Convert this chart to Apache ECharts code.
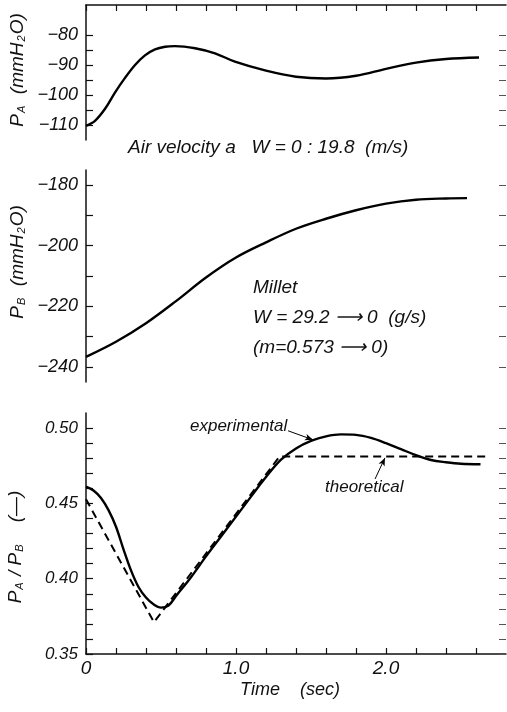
<!DOCTYPE html>
<html>
<head>
<meta charset="utf-8">
<title>PA, PB and PA/PB vs time</title>
<script src="https://cdn.jsdelivr.net/npm/echarts@6/dist/echarts.min.js"></script>
<style>
  html, body { margin: 0; padding: 0; background: #fff; }
  #chart { width: 507px; height: 712px; }
</style>
</head>
<body>
<div id="chart"></div>
<script>
// P_A, air pressure (mmH2O)
const timeA = [0, 0.06, 0.127, 0.193, 0.26, 0.327, 0.393, 0.46, 0.527, 0.593, 0.727, 0.86, 0.993, 1.2, 1.4, 1.6, 1.8, 2.0, 2.2, 2.4, 2.62];
const pressureA = [-110.3, -108.6, -104.6, -99.2, -94.3, -90, -86.8, -84.8, -83.9, -83.7, -84.4, -86.1, -88.9, -91.9, -93.9, -94.5, -93.6, -91.3, -89.2, -88, -87.5];

// P_B (mmH2O)
const timeB = [0, 0.2, 0.4, 0.6, 0.8, 1.0, 1.2, 1.4, 1.6, 1.8, 2.0, 2.2, 2.4, 2.54];
const pressureB = [-236.7, -231.7, -225.6, -218.3, -210.5, -203.9, -198.9, -194.4, -191.1, -188.3, -186.1, -184.8, -184.4, -184.3];

// P_A / P_B experimental
const timeExp = [0, 0.05, 0.1, 0.15, 0.2, 0.25, 0.3, 0.35, 0.4, 0.45, 0.5, 0.55, 0.6, 0.7, 0.8, 0.9, 1.0, 1.1, 1.2, 1.3, 1.4, 1.5, 1.6, 1.7, 1.8, 1.9, 2.0, 2.1, 2.2, 2.3, 2.4, 2.5, 2.63];
const ratioExp = [0.4611, 0.4585, 0.4535, 0.4455, 0.4345, 0.4195, 0.4055, 0.3945, 0.3875, 0.383, 0.3808, 0.3822, 0.3885, 0.401, 0.4148, 0.428, 0.4412, 0.4545, 0.4675, 0.479, 0.4865, 0.4915, 0.4945, 0.4958, 0.4955, 0.4935, 0.490, 0.486, 0.482, 0.4788, 0.4773, 0.4763, 0.476];

// P_A / P_B theoretical
const timeTheo = [0, 0.453, 1.29, 2.67];
const ratioTheo = [0.4527, 0.3711, 0.4811, 0.4811];

// ticks and labels
const timeTicks = [0, 0.2, 0.4, 0.6, 0.8, 1.0, 1.2, 1.4, 1.6, 1.8, 2.0, 2.2, 2.4, 2.6];
const timeLabels = [0, 1, 2];
const paTicks = [-110, -105, -100, -95, -90, -85, -80];
const paLabels = [-110, -100, -90, -80];
const pbTicks = [-240, -230, -220, -210, -200, -190, -180];
const pbLabels = [-240, -220, -200, -180];
const ratioTicks = [0.35, 0.36, 0.37, 0.38, 0.39, 0.40, 0.41, 0.42, 0.43, 0.44, 0.45, 0.46, 0.47, 0.48, 0.49, 0.50];
const ratioLabels = [0.35, 0.40, 0.45, 0.50];

// leader arrows [from, to] in data units
const arrowExp = [[1.347, 0.4982], [1.513, 0.4922]];
const arrowTheo = [[1.927, 0.4662], [1.993, 0.4802]];

const zip = (xs, ys) => xs.map((x, i) => [x, ys[i]]);

const ink = '#111';
const fontFam = 'Liberation Sans, Arial, sans-serif';
const italic = { fontFamily: fontFam, fontStyle: 'italic', color: ink };
const nameRich = {
  it: { fontFamily: fontFam, fontStyle: 'italic', fontSize: 19, fill: ink },
  sub: { fontFamily: fontFam, fontStyle: 'italic', fontSize: 11, fill: ink, padding: [8, 1, 0, 1] }
};

const chart = echarts.init(document.getElementById('chart'));

const leftAxis = (grid, min, max, ticks, labels, fmt, size) => ({
  type: 'value', gridIndex: grid, position: 'left', min, max,
  axisLine: { show: true, lineStyle: { color: ink, width: 1.5 } },
  axisTick: { show: true, inside: true, length: 7, customValues: ticks, lineStyle: { color: ink, width: 1.2 } },
  axisLabel: { ...italic, fontSize: size, margin: 8, customValues: labels, formatter: fmt },
  splitLine: { show: false }
});

const rightAxis = (grid, min, max, ticks) => ({
  type: 'value', gridIndex: grid, position: 'right', min, max,
  axisLine: { show: false },
  axisTick: { show: true, inside: true, length: 7, customValues: ticks, lineStyle: { color: '#555', width: 1 } },
  axisLabel: { show: false },
  splitLine: { show: false }
});

const minus = v => '\u2212' + Math.abs(v);
const txt = (x, y, text, size) => ({
  type: 'text', x, y,
  style: { text, font: 'italic ' + size + 'px ' + fontFam, fill: ink, verticalAlign: 'middle' }
});
const vname = (x, y, text) => ({
  type: 'text', x, y, rotation: Math.PI / 2,
  style: { text, rich: nameRich, align: 'center', verticalAlign: 'middle', fill: ink }
});

const option = {
  backgroundColor: '#fff',
  animation: false,
  grid: [
    { left: 86, top: 5, width: 420, height: 135 },
    { left: 86, top: 170, width: 420, height: 212 },
    { left: 86, top: 413, width: 420, height: 241 }
  ],
  xAxis: [
    {
      type: 'value', gridIndex: 0, position: 'top', min: 0, max: 2.8,
      axisLine: { show: true, lineStyle: { color: ink, width: 1.5 } },
      axisTick: { show: true, inside: true, length: 6, customValues: timeTicks, lineStyle: { color: ink, width: 1.2 } },
      axisLabel: { show: false },
      splitLine: { show: false }
    },
    { type: 'value', gridIndex: 1, min: 0, max: 2.8, show: false },
    {
      type: 'value', gridIndex: 2, position: 'bottom', min: 0, max: 2.8,
      axisLine: { show: true, lineStyle: { color: ink, width: 1.5 } },
      axisTick: { show: true, inside: true, length: 6, customValues: timeTicks, lineStyle: { color: ink, width: 1.2 } },
      axisLabel: { ...italic, fontSize: 19, margin: 5, customValues: timeLabels, formatter: v => v === 0 ? '0' : v.toFixed(1) },
      splitLine: { show: false }
    }
  ],
  yAxis: [
    leftAxis(0, -115, -70, paTicks, paLabels, minus, 18),
    rightAxis(0, -115, -70, paTicks),
    leftAxis(1, -245, -175, pbTicks, pbLabels, minus, 18),
    rightAxis(1, -245, -175, pbTicks),
    leftAxis(2, 0.35, 0.51, ratioTicks, ratioLabels, v => v.toFixed(2), 17),
    rightAxis(2, 0.35, 0.51, ratioTicks)
  ],
  series: [
    {
      type: 'line', xAxisIndex: 0, yAxisIndex: 0, data: zip(timeA, pressureA),
      smooth: 0.35, showSymbol: false, lineStyle: { color: '#000', width: 2.4 }
    },
    {
      type: 'line', xAxisIndex: 1, yAxisIndex: 2, data: zip(timeB, pressureB),
      smooth: 0.35, showSymbol: false, lineStyle: { color: '#000', width: 2.4 }
    },
    {
      type: 'line', xAxisIndex: 2, yAxisIndex: 4, data: zip(timeTheo, ratioTheo),
      showSymbol: false, lineStyle: { color: '#000', width: 2, type: [8, 5] }
    },
    {
      type: 'line', xAxisIndex: 2, yAxisIndex: 4, data: zip(timeExp, ratioExp),
      smooth: 0.35, showSymbol: false, lineStyle: { color: '#000', width: 2.4 },
      markLine: {
        silent: true, symbol: ['none', 'arrow'], symbolSize: [5, 8],
        label: { show: false },
        lineStyle: { color: '#000', width: 1, type: 'solid' },
        data: [
          [{ coord: arrowExp[0] }, { coord: arrowExp[1] }],
          [{ coord: arrowTheo[0] }, { coord: arrowTheo[1] }]
        ]
      }
    }
  ],
  graphic: [
    vname(18, 70, '{it|P}{sub|A}{it|  (mmH}{sub|2}{it|O)}'),
    vname(18, 262, '{it|P}{sub|B}{it|  (mmH}{sub|2}{it|O)}'),
    vname(16, 547, '{it|P}{sub|A}{it| / P}{sub|B}{it|    (\u2014)}'),
    txt(128, 148, 'Air velocity a   W = 0 : 19.8  (m/s)', 19),
    txt(253, 288, 'Millet', 19),
    txt(253, 318, 'W = 29.2 \u27F6 0  (g/s)', 19),
    txt(253, 348, '(m=0.573 \u27F6 0)', 19),
    txt(190, 426, 'experimental', 17),
    txt(325, 487, 'theoretical', 17),
    {
      type: 'text', x: 290, y: 690,
      style: { text: 'Time    (sec)', font: 'italic 18px ' + fontFam, fill: ink, align: 'center', verticalAlign: 'middle' }
    }
  ]
};

chart.setOption(option);
</script>
</body>
</html>
